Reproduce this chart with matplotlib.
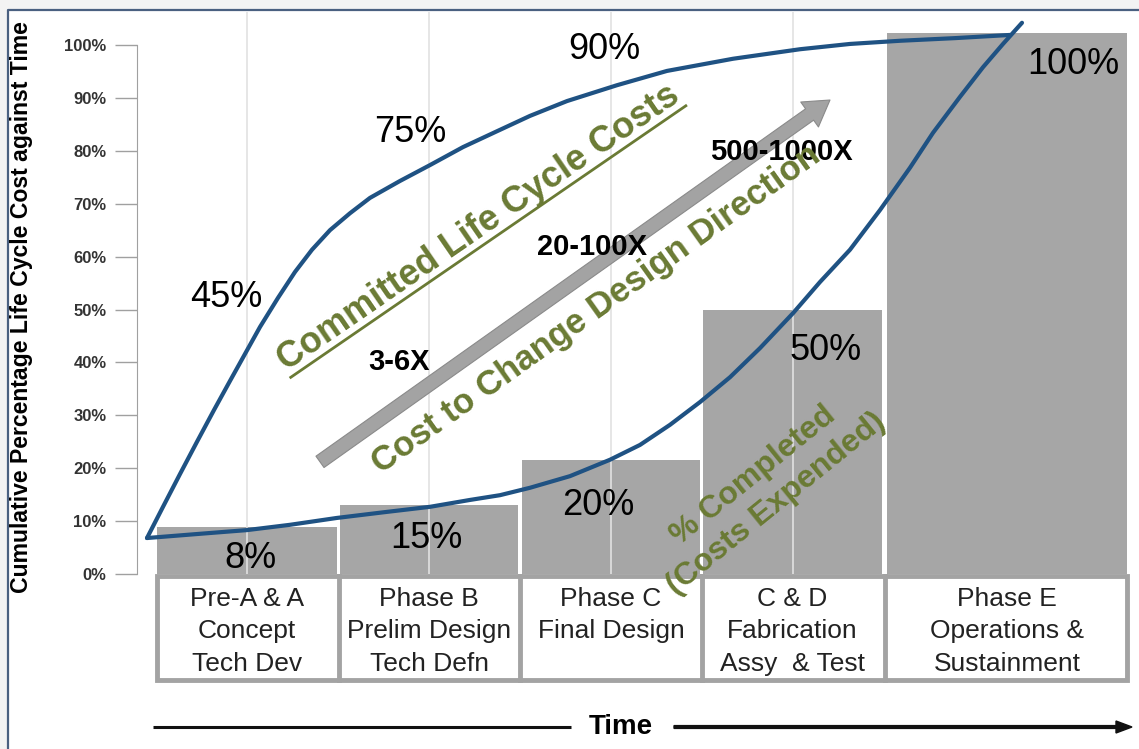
#!/usr/bin/env python3
"""Life cycle cost commitment vs. expenditure chart (committed vs. spent)."""

import math

import matplotlib
matplotlib.use('Agg')
import matplotlib.pyplot as plt
from matplotlib.patches import Rectangle, FancyArrow

plt.rcParams['font.family'] = ['Liberation Sans', 'DejaVu Sans']

# ---- data ----------------------------------------------------------------
phase_labels = ['Pre-A & A\nConcept\nTech Dev',
                'Phase B\nPrelim Design\nTech Defn',
                'Phase C\nFinal Design',
                'C & D\nFabrication\nAssy  & Test',
                'Phase E\nOperations &\nSustainment']
spent_pct = [8.9, 13.0, 21.6, 49.9, 102.3]          # bar heights
spent_labels = ['8%', '15%', '20%', '50%', '100%']

# committed life cycle cost curve (time axis 0..100)
committed_t = [1.0, 2.6, 4.3, 6.0, 7.7, 9.3, 10.8, 12.3, 14.1, 15.8, 17.5, 19.3, 21.3, 23.3,
               26.3, 29.3, 32.6, 36.0, 39.3, 43.0, 48.0, 53.0, 59.6, 66.3, 71.3, 76.3, 81.8, 87.3]
committed_pct = [6.8, 12.7, 18.9, 25.0, 31.0, 36.5, 41.6, 46.7, 52.2, 57.1, 61.3, 65.0, 68.2, 71.1,
                 74.3, 77.3, 80.7, 83.7, 86.6, 89.4, 92.4, 95.1, 97.4, 99.2, 100.2, 100.8, 101.3, 101.9]
committed_labels = ['45%', '75%', '90%']

# % completed (costs expended) curve
expended_t = [1.0, 6.3, 11.0, 15.3, 20.0, 24.8, 29.3, 33.3, 36.3, 39.3, 43.3, 47.3, 50.3, 53.3,
              56.3, 59.3, 62.3, 65.6, 68.3, 71.3, 74.3, 77.3, 79.6, 82.3, 84.6, 86.6, 88.5]
expended_pct = [6.8, 7.6, 8.3, 9.3, 10.6, 11.7, 12.7, 14.0, 14.9, 16.3, 18.5, 21.6, 24.4, 28.2,
                32.5, 37.2, 42.7, 49.3, 55.2, 61.3, 68.8, 76.8, 83.4, 90.2, 95.8, 100.2, 104.2]

cost_multipliers = ['3-6X', '20-100X', '500-1000X']
yticks = list(range(0, 101, 10))

# ---- layout ----------------------------------------------------------------
W, H = 1139, 749
bar_left = [2.0, 20.3, 38.5, 56.6, 75.0]
bar_width = [18.0, 17.8, 17.8, 17.9, 24.0]
bar_center = [l + w / 2 for l, w in zip(bar_left, bar_width)]

BLUE = '#1f5283'
BAR = '#a6a6a6'
OLIVE = '#6a7a34'

fig = plt.figure(figsize=(W / 100, H / 100), dpi=100, facecolor='#f3f3f3')

# background / frame / time arrow in pixel coordinates
ov = fig.add_axes([0, 0, 1, 1], zorder=0)
ov.set_xlim(0, W)
ov.set_ylim(H, 0)
ov.axis('off')
ov.add_patch(Rectangle((8, 10), W, H, facecolor='white', edgecolor='none'))
ov.plot([8, 8, W], [H, 10, 10], color='#4a6080', lw=1.6)
ov.plot([153, 571], [727, 727], color='#111111', lw=2.2, solid_capstyle='butt')
ov.add_patch(FancyArrow(674, 727, 458, 0, width=2.8, head_width=12, head_length=16,
                        length_includes_head=True, color='#111111'))
ov.text(621, 727, 'Time', fontsize=20, fontweight='bold', ha='center', va='center')
ov.text(22, 307, 'Cumulative Percentage Life Cycle Cost against Time',
        rotation=90, fontsize=16.6, fontweight='bold', ha='center', va='center')

# phase table under the bars (drawn below the chart axes)
tab = fig.add_axes([137 / W, 1 - 683 / H, 1000 / W, 110 / H], zorder=0.5)
tab.set_xlim(0, 100)
tab.set_ylim(0, 1)
tab.axis('off')
right = bar_left[-1] + bar_width[-1]
tab.add_patch(Rectangle((bar_left[0], 0.03), right - bar_left[0], 0.94,
                        facecolor='white', edgecolor='#a3a3a3', lw=3.5))
for i in range(1, len(bar_left)):
    xd = (bar_left[i - 1] + bar_width[i - 1] + bar_left[i]) / 2
    tab.plot([xd, xd], [0.03, 0.97], color='#a3a3a3', lw=3.5)
for xc, txt in zip(bar_center, phase_labels):
    tab.text(xc, 0.87, txt, fontsize=19, ha='center', va='top', color='#222222',
             linespacing=1.43)

# main chart axes: x 0..100 over the plot width, y in percent
ax = fig.add_axes([137 / W, 1 - 574 / H, 1000 / W, 562 / H], zorder=1)
ax.patch.set_visible(False)
ax.set_xlim(0, 100)
ax.set_ylim(0, 562 / 5.29)

ax.bar(bar_left, spent_pct, width=bar_width, align='edge', color=BAR, zorder=1)
for xc in bar_center[:4]:
    ax.axvline(xc, color='#e2e2e2', lw=1.2, zorder=2)

ax.plot(committed_t, committed_pct, color=BLUE, lw=3, zorder=4,
        solid_joinstyle='round', solid_capstyle='round')
ax.plot(expended_t, expended_pct, color=BLUE, lw=3, zorder=4,
        solid_joinstyle='round', solid_capstyle='round')

ax.set_xticks([])
ax.set_yticks(yticks)
ax.set_yticklabels([f'{v}%' for v in yticks])
for lbl in ax.get_yticklabels():
    lbl.set_fontweight('bold')
ax.tick_params(axis='y', length=16, width=1, color='#a0a0a0', pad=6,
               labelsize=12, labelcolor='#333333')
for side in ('top', 'right', 'bottom'):
    ax.spines[side].set_visible(False)
ax.spines['left'].set_bounds(0, 100)
ax.spines['left'].set_color('#a0a0a0')

# percentage annotations
pct_fs = 26
for txt, (x, y) in zip(committed_labels, [(8.9, 52.2), (27.3, 83.4), (46.7, 99.2)]):
    ax.text(x, y, txt, fontsize=pct_fs, ha='center', va='center', zorder=5)
for txt, (x, y) in zip(spent_labels, [(11.3, 3.0), (28.9, 6.8), (46.1, 12.9), (68.9, 42.2), (93.6, 96.4)]):
    ax.text(x, y, txt, fontsize=pct_fs, ha='center', va='center', zorder=5, clip_on=True)

# cost-to-change arrow and multipliers
ax.annotate('', xy=(69.3, 89.6), xytext=(18.3, 21.2),
            arrowprops=dict(arrowstyle='simple,head_length=0.9,head_width=1.1,tail_width=0.5',
                            fc='#a3a3a3', ec='#8a8a8a', lw=0.8, mutation_scale=20,
                            shrinkA=0, shrinkB=0), zorder=3)
for txt, (x, y) in zip(cost_multipliers, [(26.2, 40.1), (45.5, 61.8), (64.4, 79.8)]):
    ax.text(x, y, txt, fontsize=21, fontweight='bold', ha='center', va='center', zorder=5)

# rotated olive captions
committed_title = 'Committed Life Cycle Costs'
ct_xy, ct_rot, ct_fs = (34.2, 65.4), 34.5, 26
ax.text(*ct_xy, committed_title, fontsize=ct_fs, fontweight='bold', color=OLIVE,
        rotation=ct_rot, rotation_mode='anchor', ha='center', va='center', zorder=5)
ax.text(45.9, 50.1, 'Cost to Change Design Direction', fontsize=25, fontweight='bold',
        color=OLIVE, rotation=35.5, rotation_mode='anchor', ha='center', va='center', zorder=5)
ax.text(62.8, 15.9, '% Completed\n(Costs Expended)', fontsize=23, fontweight='bold',
        color=OLIVE, rotation=39, rotation_mode='anchor', ha='center', va='center',
        linespacing=1.3, zorder=5, clip_on=False)

# underline for the committed caption
fig.canvas.draw()
renderer = fig.canvas.get_renderer()
probe = ax.text(0, 0, committed_title, fontsize=ct_fs, fontweight='bold')
bb = probe.get_window_extent(renderer)
probe.remove()
cx, cy = ax.transData.transform(ct_xy)
th = math.radians(ct_rot)
ux, uy = math.cos(th), math.sin(th)
nx, ny = -math.sin(th), math.cos(th)
d = 0.5 * bb.height - 0.03 * ct_fs * 100 / 72
pts = [(cx - ux * bb.width / 2 - nx * d, cy - uy * bb.width / 2 - ny * d),
       (cx + ux * bb.width / 2 - nx * d, cy + uy * bb.width / 2 - ny * d)]
pts = ax.transData.inverted().transform(pts)
ax.plot(pts[:, 0], pts[:, 1], color=OLIVE, lw=2, zorder=5)

fig.savefig('out.png', dpi=100, facecolor=fig.get_facecolor())
